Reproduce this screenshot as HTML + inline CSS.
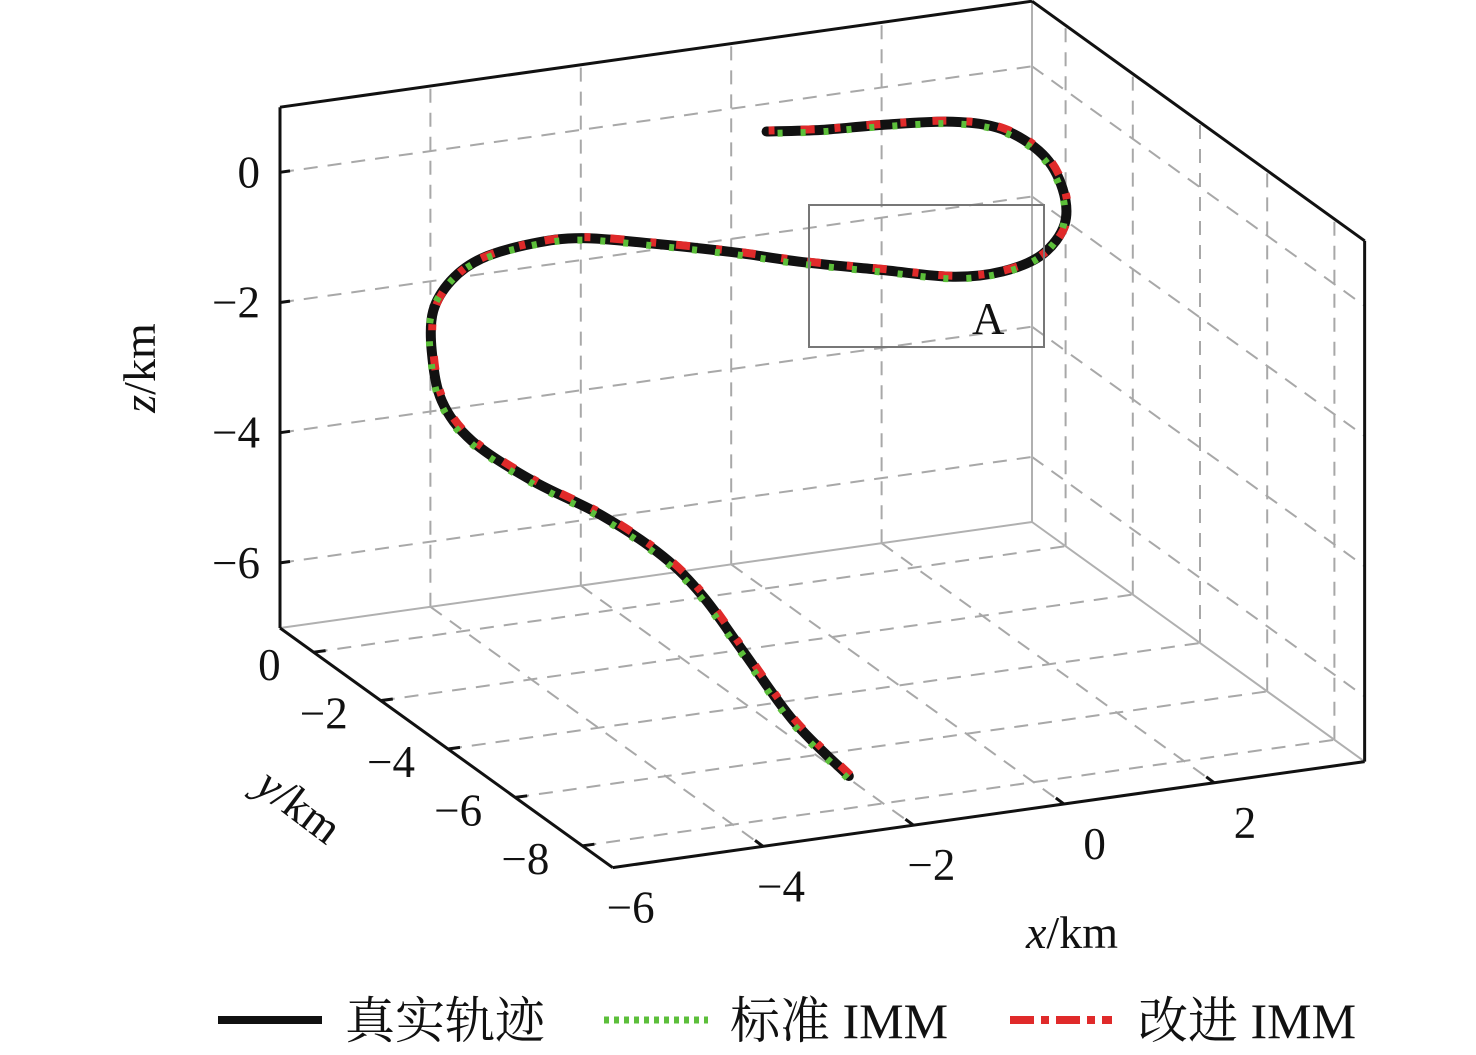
<!DOCTYPE html>
<html><head><meta charset="utf-8">
<style>
body{margin:0;background:#fff}
svg{display:block}
text{font-family:"Liberation Serif","Noto Serif CJK SC",serif;fill:#111}
</style></head>
<body>
<svg id="chart" width="1476" height="1055" viewBox="0 0 1476 1055">
<g id="grid"></g>
<g id="box"></g>
<g id="series"></g>
<g id="labels"></g>
<rect x="809" y="205" width="235" height="142" fill="none" stroke="#777" stroke-width="2"/>
<text x="972" y="334" font-size="45">A</text>
<text transform="translate(155,368) rotate(-90)" font-size="46" text-anchor="middle"><tspan font-style="italic">z</tspan>/km</text>
<text transform="translate(290,818) rotate(37)" font-size="46" text-anchor="middle"><tspan font-style="italic">y</tspan>/km</text>
<text x="1072" y="948" font-size="46" text-anchor="middle"><tspan font-style="italic">x</tspan>/km</text>
<g>
 <g>
  <line x1="218" y1="1020" x2="322" y2="1020" stroke="#111" stroke-width="8"/>
  <text x="345" y="1038" font-size="50">真实轨迹</text>
 </g>
 <g>
  <line x1="604" y1="1020" x2="708" y2="1020" stroke="#5cbf3a" stroke-width="7" stroke-dasharray="5 5"/>
  <text x="730" y="1038" font-size="50">标准 IMM</text>
 </g>
 <g>
  <line x1="1010" y1="1020" x2="1112" y2="1020" stroke="#e02a2a" stroke-width="8" stroke-dasharray="24 7 8 7"/>
  <text x="1138" y="1038" font-size="50">改进 IMM</text>
 </g>
</g>
</svg>
<script>
const xTicks=[-4,-2,0,2];
const xTickLabels=[-6,-4,-2,0,2];
const yTicks=[0,-2,-4,-6,-8];
const zTicks=[-6,-4,-2,0];
const trueX=[-2.01,-2.52,-2.97,-3.28,-3.59,-4.17,-4.88,-5.50,-5.77,-5.77,-5.66,-5.33,-4.84,-4.08,-3.33,-2.35,-1.24,-0.26,0.85,1.83,2.54,3.11,3.45,3.47,3.25,2.76,2.14,1.25,0.49,-0.20];
const trueY=[-7,-6.5,-6,-5.5,-5,-4.5,-4,-3.6,-3.3,-3,-2.8,-2.6,-2.4,-2.2,-2,-1.9,-1.8,-1.7,-1.6,-1.5,-1.4,-1.3,-1.2,-1.1,-1,-0.9,-0.8,-0.7,-0.6,-0.5];
const trueZ=[-6.95,-6.21,-5.25,-4.54,-4.06,-3.53,-3.06,-2.50,-1.95,-1.29,-0.77,-0.43,-0.25,-0.22,-0.33,-0.61,-0.96,-1.31,-1.65,-1.95,-2.02,-1.89,-1.52,-1.02,-0.49,-0.06,0.12,0.18,0.19,0.24];
const X0=-6,X1=4,Y0=1,Y1=-8.9,Z0=-7,Z1=1;
function P(x,y,z){return [280+75.2*(x-X0)+33.6*(Y0-y), 628-10.6*(x-X0)+24.2*(Y0-y)-65.1*(z-Z0)];}
const NS='http://www.w3.org/2000/svg';
function mk(tag,attrs,parent){const e=document.createElementNS(NS,tag);for(const k in attrs)e.setAttribute(k,attrs[k]);parent.appendChild(e);return e;}
function ln(a,b,parent,stroke,w,dash){const e=mk('line',{x1:a[0],y1:a[1],x2:b[0],y2:b[1],stroke:stroke,'stroke-width':w},parent);if(dash)e.setAttribute('stroke-dasharray',dash);return e;}
const grid=document.getElementById('grid'),box=document.getElementById('box'),lab=document.getElementById('labels'),ser=document.getElementById('series');
const G='#a8a8a8',D='14 10';
xTicks.forEach(x=>{const e=ln(P(x,Y0,Z0),P(x,Y0,Z1),grid,G,2,D);

});
zTicks.forEach(z=>{const e=ln(P(X0,Y0,z),P(X1,Y0,z),grid,G,2,D);

});
yTicks.forEach(y=>{const e=ln(P(X1,y,Z0),P(X1,y,Z1),grid,G,2,D);

});
zTicks.forEach(z=>{const e=ln(P(X1,Y0,z),P(X1,Y1,z),grid,G,2,D);

});
xTicks.forEach(x=>{const e=ln(P(x,Y0,Z0),P(x,Y1,Z0),grid,G,2,D);

});
yTicks.forEach(y=>{const e=ln(P(X0,y,Z0),P(X1,y,Z0),grid,G,2,D);

});
[[P(X1,Y0,Z0),P(X1,Y0,Z1)],[P(X0,Y0,Z0),P(X1,Y0,Z0)],[P(X1,Y0,Z0),P(X1,Y1,Z0)]].forEach(s=>{const e=ln(s[0],s[1],box,'#b0b0b0',2);

});
[[P(X0,Y0,Z0),P(X0,Y0,Z1)],[P(X0,Y0,Z1),P(X1,Y0,Z1)],[P(X1,Y0,Z1),P(X1,Y1,Z1)],[P(X1,Y1,Z1),P(X1,Y1,Z0)],[P(X0,Y0,Z0),P(X0,Y1,Z0)],[P(X0,Y1,Z0),P(X1,Y1,Z0)]].forEach(s=>{const e=ln(s[0],s[1],box,'#111',3);

});
zTicks.forEach(z=>{const p=P(X0,Y0,z);ln(p,[p[0]+10,p[1]-1.4],box,'#111',3);
const t=mk('text',{x:p[0]-20,y:p[1]+15,'font-size':45,'text-anchor':'end'},lab);t.textContent=String(z).replace('-','\u2212');

});
yTicks.forEach(y=>{const p=P(X0,y,Z0);ln(p,[p[0]+12,p[1]-1.6],box,'#111',3);
const t=mk('text',{x:p[0]-33,y:p[1]+28,'font-size':45,'text-anchor':'end'},lab);t.textContent=String(y).replace('-','\u2212');

});
xTickLabels.forEach(x=>{const p=P(x,Y1,Z0);if(x>X0)ln(p,[p[0]-8,p[1]-6],box,'#111',3);
const t=mk('text',{x:p[0]+42,y:p[1]+55,'font-size':45,'text-anchor':'end'},lab);t.textContent=String(x).replace('-','\u2212');

});
const pts=trueX.map((x,i)=>P(x,trueY[i],trueZ[i]));
function smooth(p){let d='M'+p[0][0]+','+p[0][1];for(let i=0;i<p.length-1;i++){const a=p[Math.max(0,i-1)],b=p[i],c=p[i+1],e=p[Math.min(p.length-1,i+2)];
d+=' C'+(b[0]+(c[0]-a[0])/6)+','+(b[1]+(c[1]-a[1])/6)+' '+(c[0]-(e[0]-b[0])/6)+','+(c[1]-(e[1]-b[1])/6)+' '+c[0]+','+c[1];}return d;}
const d=smooth(pts);
const s1=mk('path',{d:d,fill:'none',stroke:'#111','stroke-width':10,'stroke-linecap':'round'},ser);


const s2=mk('path',{d:d,fill:'none',stroke:'#e02a2a','stroke-width':8,'stroke-dasharray':'14 26 6 20',transform:'translate(1.5,-1)'},ser);


const s3=mk('path',{d:d,fill:'none',stroke:'#5cbf3a','stroke-width':7,'stroke-dasharray':'5 18',transform:'translate(-1.5,2)'},ser);


</script>
</body></html>
